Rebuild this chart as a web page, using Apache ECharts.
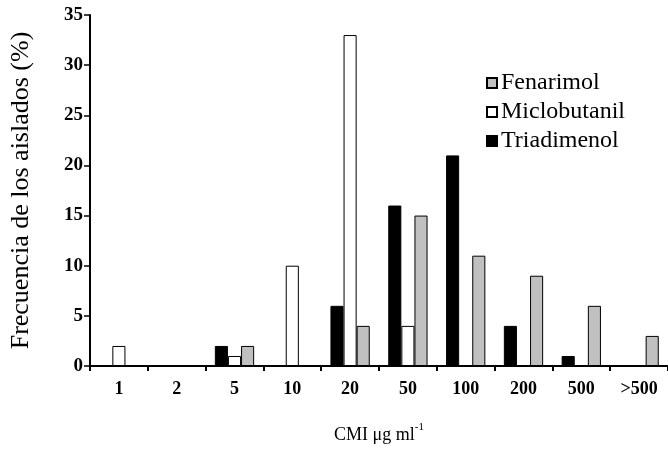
<!DOCTYPE html>
<html><head><meta charset="utf-8">
<script src="https://cdn.jsdelivr.net/npm/echarts@6/dist/echarts.min.js"></script>
<style>html,body{margin:0;padding:0;background:#fff}#c{width:668px;height:449px}</style>
</head><body><div id="c"></div>
<script>
const categories = ['1','2','5','10','20','50','100','200','500','>500'];
const triadimenol = [0,0,2,0,6,16,21,4,1,0];
const miclobutanil = [2,0,1,10,33,4,0,0,0,0];
const fenarimol = [0,0,2,0,4,15,11,9,6,3];
const yTicks = {min:0, max:35, interval:5};

const serif = '"Liberation Serif","Times New Roman",serif';
const chart = echarts.init(document.getElementById('c'));
const bar = (name, data, color) => ({
  name, type:'bar', data, barGap:'0%', barCategoryGap:'32%',
  itemStyle:{color, borderColor:'#000', borderWidth:1}
});
chart.setOption({
  animation:false,
  grid:{left:80, right:-1, top:15, bottom:70, containLabel:false},
  legend:{
    data:['Fenarimol','Miclobutanil','Triadimenol'],
    orient:'vertical', left:481, top:66, itemWidth:10, itemHeight:10, itemGap:5,
    icon:'rect',
    textStyle:{fontFamily:serif, fontSize:24, color:'#000', padding:[0,0,0,-1]}
  },
  xAxis:{
    type:'category', data:categories,
    name:'{a|CMI μg ml}{s|-1}', nameLocation:'middle', nameGap:56,
    nameTextStyle:{rich:{a:{fontFamily:serif,fontSize:18,color:'#000',verticalAlign:'bottom'},s:{fontFamily:serif,fontSize:11,color:'#000',verticalAlign:'top',padding:[0,0,11,0]}}},
    axisLine:{lineStyle:{color:'#000', width:2}},
    axisTick:{show:true, length:5, lineStyle:{color:'#000', width:2}},
    axisLabel:{fontFamily:serif, fontWeight:'bold', fontSize:18, color:'#000', margin:14}
  },
  yAxis:{
    type:'value', min:yTicks.min, max:yTicks.max, interval:yTicks.interval,
    name:'Frecuencia de los aislados (%)', nameLocation:'middle', nameGap:56,
    nameTextStyle:{fontFamily:serif, fontSize:26, color:'#000'},
    axisLine:{show:true, lineStyle:{color:'#000', width:2}},
    axisTick:{show:true, length:6, lineStyle:{color:'#000', width:1.5}},
    splitLine:{show:false},
    axisLabel:{fontFamily:serif, fontWeight:'bold', fontSize:19, color:'#000', margin:7}
  },
  series:[
    bar('Triadimenol', triadimenol, '#000000'),
    bar('Miclobutanil', miclobutanil, '#ffffff'),
    bar('Fenarimol', fenarimol, '#c0c0c0')
  ]
});
</script></body></html>
